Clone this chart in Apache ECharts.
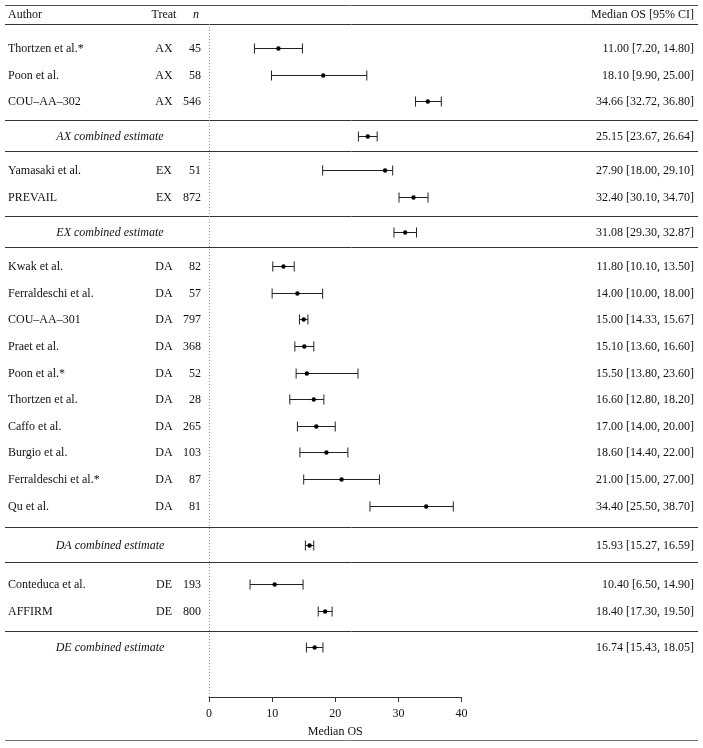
<!DOCTYPE html>
<html><head><meta charset="utf-8">
<script src="https://cdn.jsdelivr.net/npm/echarts@6/dist/echarts.min.js"></script>
<style>html,body{margin:0;padding:0;background:#fff}#c{width:703px;height:748px}</style>
</head><body><div id="c"></div>
<script>
// ---------- data ----------
const authors = ['Thortzen et al.*','Poon et al.','COU–AA–302','Yamasaki et al.','PREVAIL',
  'Kwak et al.','Ferraldeschi et al.','COU–AA–301','Praet et al.','Poon et al.*','Thortzen et al.',
  'Caffo et al.','Burgio et al.','Ferraldeschi et al.*','Qu et al.','Conteduca et al.','AFFIRM'];
const treats = ['AX','AX','AX','EX','EX','DA','DA','DA','DA','DA','DA','DA','DA','DA','DA','DE','DE'];
const ns = [45,58,546,51,872,82,57,797,368,52,28,265,103,87,81,193,800];
const medians = [11.00,18.10,34.66,27.90,32.40,11.80,14.00,15.00,15.10,15.50,16.60,17.00,18.60,21.00,34.40,10.40,18.40];
const lowers  = [7.20,9.90,32.72,18.00,30.10,10.10,10.00,14.33,13.60,13.80,12.80,14.00,14.40,15.00,25.50,6.50,17.30];
const uppers  = [14.80,25.00,36.80,29.10,34.70,13.50,18.00,15.67,16.60,23.60,18.20,20.00,22.00,27.00,38.70,14.90,19.50];
const groups = ['AX','EX','DA','DE'];
const groupMedians = [25.15,31.08,15.93,16.74];
const groupLowers  = [23.67,29.30,15.27,15.43];
const groupUppers  = [26.64,32.87,16.59,18.05];
const xTicks = [0,10,20,30,40];
const headers = ['Author','Treat','n','Median OS [95% CI]'];
const xAxisName = 'Median OS';

// ---------- layout ----------
const FONT = '"Liberation Serif", "DejaVu Serif", serif';
const FS = 12;
const INK = '#222';
const ROW_PX = 26.6, FIRST_Y = 48, GRID_TOP = 24, AXIS_Y = 697;
const GAP_BEFORE_SUM = [1.3, 1.3, 1.48, 1.37];
const GAP_AFTER_SUM  = [1.3, 1.3, 1.47, 1.3];
const SEP_FRAC_STUDY = 0.55, SEP_FRAC_SUM = 0.45;
const CAP = 5, DOT_R = 2.2;
const X_AUTHOR = 8, X_TREAT = 164, X_N = 201, X_SUM = 110, X_RIGHT = 694;
const LINE_L = 5, LINE_R = 698;

const rows = [], seps = [];
let pos = 0;
groups.forEach((g, gi) => {
  treats.forEach((t, i) => {
    if (t !== g) return;
    rows.push({kind:'study', i, pos, med:medians[i], lo:lowers[i], hi:uppers[i]});
    pos += 1;
  });
  pos -= 1;
  seps.push(pos + GAP_BEFORE_SUM[gi] * SEP_FRAC_STUDY);
  pos += GAP_BEFORE_SUM[gi];
  rows.push({kind:'sum', i:gi, pos, med:groupMedians[gi], lo:groupLowers[gi], hi:groupUppers[gi]});
  if (gi < groups.length - 1) seps.push(pos + GAP_AFTER_SUM[gi] * SEP_FRAC_SUM);
  pos += GAP_AFTER_SUM[gi];
});

const yMin = -(FIRST_Y - GRID_TOP) / ROW_PX;
const yMax = yMin + (AXIS_Y - GRID_TOP) / ROW_PX;
const f2 = v => v.toFixed(2);

function txt(text, x, y, align, italic) {
  return {type:'text', style:{text, x, y, textAlign:align, align, textVerticalAlign:'middle', verticalAlign:'middle',
    fill:'#111', font:(italic?'italic ':'') + FS + 'px ' + FONT}};
}

function renderRow(params, api) {
  const r = rows[params.dataIndex];
  const y = Math.round(api.coord([0, r.pos])[1]) + 0.5;
  const xl = api.coord([r.lo, r.pos])[0], xh = api.coord([r.hi, r.pos])[0], xm = api.coord([r.med, r.pos])[0];
  const ls = {stroke:INK, lineWidth:1};
  const ch = [
    {type:'line', shape:{x1:xl, y1:y, x2:xh, y2:y}, style:ls},
    {type:'line', shape:{x1:xl, y1:y-CAP, x2:xl, y2:y+CAP}, style:ls},
    {type:'line', shape:{x1:xh, y1:y-CAP, x2:xh, y2:y+CAP}, style:ls},
    {type:'circle', shape:{cx:xm, cy:y, r:DOT_R}, style:{fill:'#000'}},
    txt(f2(r.med) + ' [' + f2(r.lo) + ', ' + f2(r.hi) + ']', X_RIGHT, y, 'right', false)
  ];
  if (r.kind === 'study') {
    ch.push(txt(authors[r.i], X_AUTHOR, y, 'left', false));
    ch.push(txt(treats[r.i], X_TREAT, y, 'center', false));
    ch.push(txt(String(ns[r.i]), X_N, y, 'right', false));
  } else {
    ch.push(txt(groups[r.i] + ' combined estimate', X_SUM, y, 'center', true));
  }
  return {type:'group', children:ch};
}

function renderSep(params, api) {
  const y = Math.round(api.coord([0, seps[params.dataIndex]])[1]) + 0.5;
  return {type:'line', shape:{x1:LINE_L, y1:y, x2:LINE_R, y2:y}, style:{stroke:'#333', lineWidth:1}};
}

const hdr = (text, x, align, italic) => ({type:'text', x, y:15, style:{text, font:(italic?'italic ':'')+FS+'px '+FONT,
  fill:'#111', textAlign:align, align, textVerticalAlign:'middle', verticalAlign:'middle'}});

const chart = echarts.init(document.getElementById('c'), null, {renderer:'canvas'});
chart.setOption({
  animation:false,
  grid:{left:209, right:703-461.5, top:GRID_TOP, bottom:748-AXIS_Y},
  xAxis:{type:'value', min:xTicks[0], max:xTicks[xTicks.length-1], interval:10,
    axisLine:{show:true, onZero:false, lineStyle:{color:'#333', width:1}},
    axisTick:{show:true, inside:false, length:5, lineStyle:{color:'#333'}},
    axisLabel:{fontFamily:FONT, fontSize:FS, color:'#111', margin:11},
    splitLine:{show:false},
    name:xAxisName, nameLocation:'middle', nameGap:29,
    nameTextStyle:{fontFamily:FONT, fontSize:FS, color:'#111'}},
  yAxis:{type:'value', inverse:true, min:yMin, max:yMax, show:false},
  series:[
    {type:'custom', renderItem:renderSep, data:seps.map(s => [0, s]), clip:false, silent:true, z:1},
    {type:'custom', renderItem:renderRow, data:rows.map(r => [r.med, r.pos]), clip:false, silent:true, z:3,
     markLine:{silent:true, symbol:['none','none'], label:{show:false},
       lineStyle:{color:'#999', type:[1,2], width:1}, data:[{xAxis:0}]}}
  ],
  graphic:[
    {type:'line', shape:{x1:LINE_L, y1:5.5, x2:LINE_R, y2:5.5}, style:{stroke:'#555', lineWidth:1}},
    {type:'line', shape:{x1:LINE_L, y1:24.5, x2:LINE_R, y2:24.5}, style:{stroke:'#333', lineWidth:1}},
    {type:'line', shape:{x1:LINE_L, y1:740.5, x2:LINE_R, y2:740.5}, style:{stroke:'#777', lineWidth:1}},
    hdr(headers[0], X_AUTHOR, 'left', false),
    hdr(headers[1], X_TREAT, 'center', false),
    hdr(headers[2], 196, 'center', true),
    hdr(headers[3], X_RIGHT, 'right', false)
  ]
});
</script></body></html>
